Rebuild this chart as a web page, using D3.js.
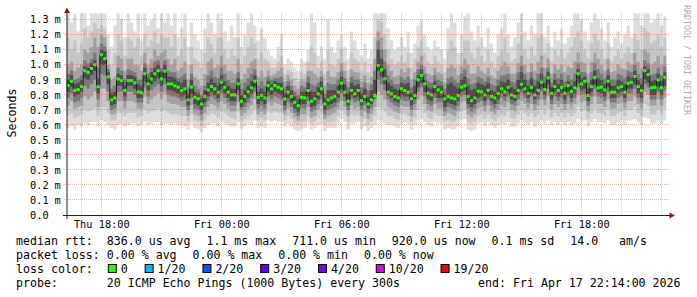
<!DOCTYPE html>
<html><head><meta charset="utf-8">
<script src="https://cdn.jsdelivr.net/npm/d3@7"></script>
<style>
html,body{margin:0;padding:0;background:#fff;}
svg{display:block;}
text{font-family:"DejaVu Sans Mono",monospace;white-space:pre;}
</style></head><body>
<svg id="c" width="697" height="297"></svg>
<script>
// ---------- DATA ----------
const startTime = Date.UTC(2026,3,16,16,14,0);   // Thu 16:14 UTC
const endTime   = Date.UTC(2026,3,17,22,14,0);   // Fri 22:14 UTC
const stepMs = 600000;                            // 10 min consolidated steps

// median rtt per step, microseconds
const medianUs = [
862,890,830,835,855,960,950,975,1000,855,
1066,1040,920,767,780,905,895,830,895,895,
880,820,815,940,873,905,940,960,906,957,
873,873,860,851,829,840,767,851,784,774,
740,789,833,855,840,818,884,850,818,800,
800,873,758,789,820,847,890,784,796,780,
862,840,862,851,840,774,818,789,751,729,
784,780,829,758,774,807,840,740,767,780,
789,818,877,818,758,829,807,829,762,789,
740,767,796,995,966,906,818,807,789,780,
840,829,818,774,796,900,928,873,811,800,
855,833,818,774,789,780,774,796,851,860,
789,762,780,824,820,800,830,790,780,810,
840,820,850,800,790,830,870,840,810,850,
800,830,884,835,913,810,855,829,850,811,
862,824,847,940,873,890,796,855,915,847,
851,833,890,818,818,847,855,818,877,884,
922,855,829,961,935,847,851,900,847,917];

// sorted ping values (ping #k of 20) per step, in units of 0.01 ms
const ping20 = [
134,128,134,122,134,134,126,134,134,134, 134,134,120,112,126,134,130,118,134,128,
122,134,116,134,126,130,134,124,134,128, 134,126,134,118,124,134,112,128,120,116,
110,124,134,128,120,134,130,122,116,126, 118,134,112,120,128,134,126,116,124,118,
110,106,104,112,120,100,104,102,98,96, 104,102,110,134,128,106,112,104,130,112,
108,116,120,112,104,122,116,110,106,114, 104,110,134,134,134,134,124,116,110,112,
118,112,122,108,114,126,130,120,112,110, 116,112,110,104,124,134,128,108,120,132,
134,122,116,126,118,112,124,114,108,120, 124,134,120,112,118,128,134,122,116,126,
120,134,134,118,126,112,122,116,124,114, 118,126,134,134,130,122,116,128,134,130,
124,116,128,112,118,122,114,120,126,118, 134,134,126,134,134,128,130,134,126,132];
const ping19 = [
118,110,116,108,114,124,118,122,128,124, 126,124,110,100,108,120,116,106,118,116,
112,118,106,120,112,116,122,114,120,118, 118,112,120,106,110,118,100,112,104,102,
98,108,118,114,108,118,118,110,104,110, 106,118,100,106,112,118,114,104,108,104,
102,98,98,102,106,94,97,95,91,89, 96,94,102,112,108,98,102,94,110,100,
99,104,110,102,96,108,104,102,96,102, 95,100,118,130,128,120,110,104,100,102,
106,102,108,98,104,112,116,108,102,100, 106,102,100,95,110,116,112,100,108,116,
116,108,104,112,106,102,110,102,98,106, 110,118,108,102,104,114,120,110,104,112,
106,118,120,108,114,102,110,106,110,104, 108,112,118,122,116,110,104,114,120,116,
110,104,114,102,106,110,104,108,112,108, 120,116,110,124,122,114,116,120,112,118];
const ping17 = [
100,102,96,98,100,110,108,112,118,112, 120,118,100,90,92,106,104,96,104,104,
100,100,96,108,100,104,110,106,108,110, 104,100,104,96,98,102,90,100,92,90,
86,94,102,104,98,100,106,100,96,96, 94,104,90,94,98,102,104,92,96,92,
96,93,94,96,98,89,93,90,86,84, 90,89,96,96,94,92,96,86,96,92,
92,95,101,96,89,97,95,95,89,93, 88,92,104,122,118,110,100,96,92,93,
97,95,98,90,95,102,106,99,94,93, 98,95,94,88,98,100,98,93,99,104,
100,94,94,99,96,94,98,93,91,96, 99,102,99,94,94,101,106,100,95,101,
96,102,106,98,104,94,100,97,100,95, 99,98,102,108,102,101,94,102,108,104,
100,96,104,95,96,100,98,97,102,100, 108,102,98,110,108,100,102,106,100,106];
const ping15 = [
94,96,90,91,93,103,101,104,108,98, 114,112,97,84,86,98,96,90,97,96,
95,90,90,101,94,98,102,103,98,103, 96,95,95,91,92,94,84,94,86,84,
80,86,93,96,92,91,98,94,90,88, 88,95,84,88,91,94,97,86,89,86,
92,90,91,91,92,85,89,86,82,80, 86,85,92,87,86,88,92,81,88,87,
87,90,96,91,85,92,90,90,85,88, 83,87,96,116,110,102,93,90,87,87,
92,90,92,85,90,97,100,94,89,88, 93,90,89,84,91,92,90,88,94,97,
91,87,88,92,91,89,92,87,86,90, 93,93,94,89,88,95,99,94,90,95,
90,94,98,92,98,88,94,91,94,89, 93,90,94,101,95,95,88,95,101,97,
94,91,97,90,90,94,93,91,96,95, 100,94,91,103,101,93,94,98,93,99];
const ping13 = [
90,93,87,88,90,99,98,101,103,91, 110,109,95,81,82,94,93,86,93,93,
92,87,86,98,91,95,98,100,95,100, 92,92,91,89,88,90,81,90,82,81,
77,83,88,91,88,86,93,89,86,84, 84,91,80,83,86,89,93,82,84,82,
89,87,89,88,88,81,86,83,79,77, 82,82,88,82,82,85,89,78,83,83,
83,86,92,87,81,88,86,87,81,84, 79,83,90,110,104,97,88,86,84,83,
88,87,88,81,86,93,97,90,85,84, 89,86,86,80,87,88,86,84,90,92,
86,83,84,88,87,86,88,83,82,86, 89,88,90,85,84,90,95,90,86,91,
86,89,94,88,95,85,90,87,90,85, 89,86,89,97,91,92,84,90,96,91,
90,87,93,86,86,90,89,87,92,91, 96,90,87,99,97,89,90,94,89,95];
const ping8 = [
82,85,79,80,82,91,90,93,96,81, 100,100,87,73,74,86,86,79,86,86,
84,78,78,89,83,87,89,91,86,91, 83,83,82,81,79,80,73,81,74,73,
70,75,79,82,80,78,84,81,78,76, 76,83,72,75,78,81,85,74,76,74,
82,80,82,81,80,73,78,75,71,69, 74,74,79,72,73,77,80,70,73,74,
75,78,84,79,73,80,78,79,73,76, 71,74,81,96,92,87,80,78,76,75,
80,79,79,73,77,85,88,82,77,76, 81,78,78,72,75,74,73,76,82,83,
74,72,74,78,79,76,80,76,74,77, 81,79,82,77,76,80,84,81,78,82,
77,80,85,80,87,77,82,79,81,77, 82,78,81,88,83,84,76,82,87,82,
81,79,85,78,78,81,82,78,84,84, 87,81,78,90,88,80,80,85,80,86];
const ping6 = [
78,81,75,76,78,86,84,87,90,77, 94,93,82,70,71,82,82,76,82,82,
80,75,75,85,79,83,85,87,82,87, 80,79,79,78,76,77,70,78,71,70,
67,72,76,79,77,75,81,78,75,73, 73,80,70,72,75,78,82,71,73,71,
79,77,79,78,77,70,75,72,68,66, 71,71,76,69,70,74,77,67,70,71,
72,75,81,76,70,77,75,76,70,73, 68,71,77,90,87,83,77,75,73,72,
77,76,76,70,74,82,85,79,74,73, 78,75,75,69,72,71,70,73,79,80,
71,69,71,75,76,73,77,73,71,74, 78,76,79,74,73,77,81,78,75,79,
74,77,82,77,84,74,79,76,78,74, 79,75,78,85,80,81,73,79,84,79,
78,76,82,75,75,78,79,75,81,81, 84,78,75,87,85,77,77,82,77,83];
const ping4 = [
73,76,71,72,73,79,77,79,82,72, 84,84,76,67,67,76,76,71,76,76,
75,71,71,79,74,77,79,81,77,81, 75,74,74,73,72,72,66,73,67,66,
63,68,72,74,73,71,76,74,71,69, 69,75,66,68,71,73,77,67,69,67,
75,73,75,74,73,67,71,68,65,63, 67,67,72,65,66,70,73,64,66,67,
68,71,76,72,66,73,71,72,66,69, 64,67,72,82,80,77,72,71,69,68,
73,72,72,66,70,77,80,74,70,69, 74,71,71,66,68,67,66,69,75,76,
67,65,67,71,72,69,73,69,67,70, 73,72,75,70,69,73,76,74,71,74,
70,73,77,73,79,70,74,72,74,70, 74,71,74,80,75,76,69,74,79,74,
74,72,77,71,71,74,75,71,76,76, 79,74,71,82,80,73,73,77,73,78];
const ping2 = [
66,68,65,66,67,70,69,70,71,66, 72,72,68,63,63,68,68,66,68,68,
68,65,66,70,68,69,70,71,69,70, 68,67,67,67,66,66,62,67,63,62,
59,63,66,68,67,65,69,68,66,65, 64,69,62,64,66,67,70,63,65,63,
69,68,69,68,68,63,66,64,61,60, 62,62,66,61,62,65,67,60,62,62,
63,66,70,67,62,67,66,67,62,64, 60,62,66,72,71,69,66,66,64,63,
67,67,66,62,65,70,72,68,65,64, 68,66,66,62,63,62,62,64,69,70,
62,61,62,66,67,64,67,64,63,65, 67,66,69,65,64,67,70,68,66,68,
65,67,70,67,71,65,68,66,68,65, 68,66,68,72,69,70,64,68,71,68,
68,66,70,66,66,68,69,66,70,70, 72,68,66,74,72,67,67,70,67,71];
const ping1 = [
58,59,57,60,59,61,60,62,62,59, 63,62,60,58,57,60,61,59,60,61,
61,59,60,62,60,61,62,62,60,61, 61,60,61,60,60,59,57,61,58,57,
55,58,60,61,61,59,62,61,60,59, 59,62,57,59,61,60,63,58,59,58,
63,62,63,62,62,59,61,59,57,56, 57,58,61,57,58,60,61,56,58,58,
58,61,64,62,57,61,61,62,57,59, 56,58,60,63,62,61,60,60,59,58,
61,62,61,57,60,63,64,62,60,59, 62,61,61,57,58,57,57,59,63,64,
57,56,57,61,62,59,62,60,58,60, 61,60,62,59,59,61,63,62,60,62,
59,61,63,61,63,60,62,60,62,60, 62,60,61,64,62,63,59,62,64,62,
62,61,63,60,60,62,63,60,63,63, 64,62,60,65,64,61,61,63,61,63];

const yTicks = [0,0.1,0.2,0.3,0.4,0.5,0.6,0.7,0.8,0.9,1.0,1.1,1.2,1.3];
const yUnit = "m";
const lossLevels = ["0","1/20","2/20","3/20","4/20","10/20","19/20"];
const lossColors = ["#26ff00","#00b8ff","#0059ff","#5e00ff","#7e00ff","#dd00ff","#ff0000"];
const rttStats = ["836.0 us avg","1.1 ms max","711.0 us min","920.0 us now","0.1 ms sd","14.0   am/s"];
const lossStats = ["0.00 % avg","0.00 % max","0.00 % min","0.00 % now"];
const probeText = "20 ICMP Echo Pings (1000 Bytes) every 300s";

// ---------- DRAW ----------
const svg = d3.select("#c");
const X0 = 66.5, X1 = 666.5, Y0 = 215.5, YTOP = 13;
const xs = d3.scaleUtc().domain([startTime, endTime]).range([X0, X1]);
const ys = d3.scaleLinear().domain([0, 1.3]).range([215.5, 19.5]);
const N = medianUs.length;
const times = d3.range(N + 1).map(i => startTime + i * stepMs);

svg.append("defs").append("clipPath").attr("id","plot")
  .append("rect").attr("x", X0).attr("y", YTOP).attr("width", X1 - X0).attr("height", Y0 - YTOP);

const g = svg.append("g").attr("clip-path","url(#plot)");
const bands = [
  [ping1, ping20, "#dddddd"],
  [ping2, ping19, "#c6c6c6"],
  [ping4, ping17, "#a2a2a2"],
  [ping6, ping15, "#7a7a7a"],
  [ping8, ping13, "#4c4c4c"]
];
const area = d3.area().curve(d3.curveStepAfter)
  .x(d => xs(d.t)).y0(d => ys(d.lo)).y1(d => ys(d.hi));
bands.forEach(([lo, hi, col]) => {
  const pts = d3.range(N + 1).map(i => {
    const k = Math.min(i, N - 1);
    return {t: times[i], lo: lo[k] / 100, hi: hi[k] / 100};
  });
  g.append("path").attr("d", area(pts)).attr("fill", col);
});

// grid
const grid = svg.append("g").attr("shape-rendering","crispEdges").attr("stroke-dasharray","1,1");
const hours = d3.utcHour.range(startTime, endTime);
hours.forEach(h => {
  const major = h.getUTCHours() % 3 === 0;
  const x = Math.floor(xs(h)) + 0.5;
  grid.append("line").attr("x1", x).attr("x2", x)
    .attr("y1", YTOP).attr("y2", major ? 218 : Y0)
    .attr("stroke", major ? "rgba(222,80,80,0.45)" : "rgba(143,143,143,0.45)");
});
yTicks.filter(v => v > 0).forEach(v => {
  const y = Math.round(ys(v)) - 0.5;
  grid.append("line").attr("x1", 63.5).attr("x2", 670).attr("y1", y).attr("y2", y)
    .attr("stroke", "rgba(222,80,80,0.45)");
});

// median line + loss coloured boxes
const pts = d3.range(N + 1).map(i => ({t: times[i], v: medianUs[Math.min(i, N - 1)] / 1000}));
g.append("path").attr("d", d3.line().curve(d3.curveStepAfter).x(d => xs(d.t)).y(d => ys(d.v))(pts))
  .attr("fill","none").attr("stroke","#202020").attr("stroke-width",1);
g.selectAll("rect.med").data(medianUs).join("rect").attr("class","med")
  .attr("x", (d,i) => xs(times[i])).attr("width", (d,i) => xs(times[i+1]) - xs(times[i]))
  .attr("y", d => ys(d / 1000) - 1.5).attr("height", 3).attr("fill", lossColors[0]);

// axes
svg.append("line").attr("x1", 63).attr("x2", 670).attr("y1", Y0).attr("y2", Y0)
  .attr("stroke","#1f1f1f").attr("shape-rendering","crispEdges");
svg.append("line").attr("x1", 67).attr("x2", 67).attr("y1", 219).attr("y2", 12)
  .attr("stroke","#1f1f1f");
svg.append("polygon").attr("points","67,7.5 64,13 70,13").attr("fill","#7f1f1f");
svg.append("polygon").attr("points","675,215.5 669.5,212.5 669.5,218.5").attr("fill","#7f1f1f");

// y labels
const yl = svg.append("g").attr("font-size","10.3px").attr("fill","#000");
yTicks.forEach(v => {
  const y = ys(v) + 3.7;
  yl.append("text").attr("x", 48.6).attr("y", y).attr("text-anchor","end").text(d3.format(".1f")(v));
  if (v > 0) yl.append("text").attr("x", 54.4).attr("y", y).text(yUnit);
});
// x labels
const fmt = d3.utcFormat("%a %H:%M");
hours.filter(h => h.getUTCHours() % 6 === 0).forEach(h => {
  svg.append("text").attr("x", xs(h)).attr("y", 228).attr("text-anchor","middle")
    .attr("font-size","10.3px").text(fmt(h));
});

// vertical unit label & watermark
svg.append("text").attr("transform","translate(16,113) rotate(-90)").attr("text-anchor","middle")
  .attr("font-size","11.6px").text("Seconds");
svg.append("text").attr("transform","translate(684,5) rotate(90)").attr("font-size","8.3px")
  .attr("fill","#ababab").text("RRDTOOL / TOBI OETIKER");

// legend
const L = svg.append("g").attr("font-size","11.6px").attr("fill","#000");
const LX = 16, VX = 106.8, GAP = 15.9;
const base = [244.5, 258.5, 272.5, 286.5];
function row(label, items, y) {
  L.append("text").attr("x", LX).attr("y", y).text(label);
  let x = VX;
  items.forEach(s => {
    const t = L.append("text").attr("x", x).attr("y", y).text(s);
    x += t.node().getComputedTextLength() + GAP;
  });
}
row("median rtt:", rttStats, base[0]);
row("packet loss:", lossStats, base[1]);
L.append("text").attr("x", LX).attr("y", base[2]).text("loss color:");
{
  let x = VX;
  const cw = 6.98;
  lossLevels.forEach((s, i) => {
    L.append("rect").attr("x", x + 1.5).attr("y", base[2] - 8).attr("width", 8).attr("height", 8)
      .attr("fill", lossColors[i]).attr("stroke","#000").attr("stroke-width",1);
    const t = L.append("text").attr("x", x + 2 * cw).attr("y", base[2]).text(s);
    x += 2 * cw + t.node().getComputedTextLength() + GAP;
  });
}
L.append("text").attr("x", LX).attr("y", base[3]).text("probe:");
L.append("text").attr("x", VX).attr("y", base[3]).text(probeText);
L.append("text").attr("x", 680.5).attr("y", base[3]).attr("text-anchor","end")
  .text("end: " + d3.utcFormat("%a %b %d %H:%M:%S %Y")(endTime));
</script>
</body></html>
